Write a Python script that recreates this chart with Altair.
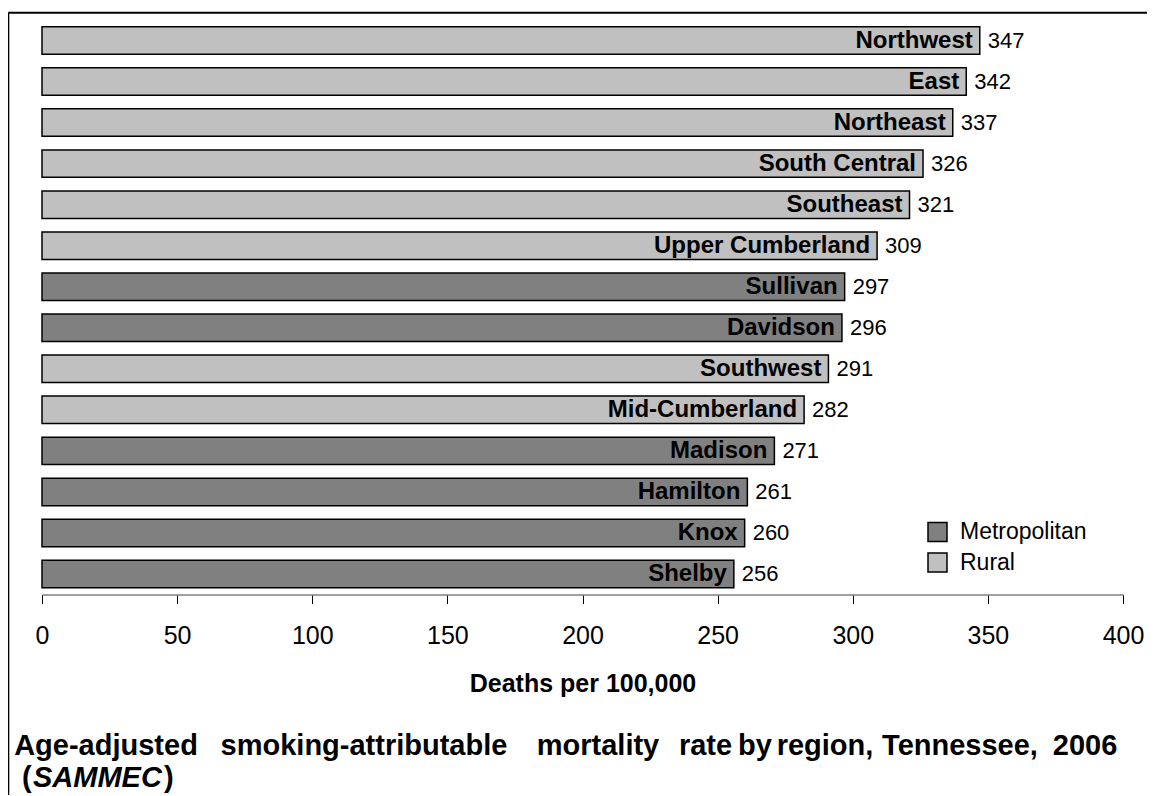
import altair as alt
import pandas as pd

# ---- data ----
regions = ["Northwest", "East", "Northeast", "South Central", "Southeast",
           "Upper Cumberland", "Sullivan", "Davidson", "Southwest",
           "Mid-Cumberland", "Madison", "Hamilton", "Knox", "Shelby"]
rates = [347, 342, 337, 326, 321, 309, 297, 296, 291, 282, 271, 261, 260, 256]
kinds = ["Rural", "Rural", "Rural", "Rural", "Rural", "Rural",
         "Metropolitan", "Metropolitan", "Rural", "Rural",
         "Metropolitan", "Metropolitan", "Metropolitan", "Metropolitan"]
x_ticks = [0, 50, 100, 150, 200, 250, 300, 350, 400]
x_title = "Deaths per 100,000"
legend_order = ["Metropolitan", "Rural"]
legend_colors = ["#808080", "#c0c0c0"]
title_words = ["Age-adjusted", "smoking-attributable", "mortality", "rate",
               "by", "region,", "Tennessee,", "2006"]
title_line2 = ["(", "SAMMEC", ")"]

df = pd.DataFrame({"region": regions, "rate": rates, "kind": kinds})

# ---- layout ----
FONT = "Liberation Sans"
W, H = 1081, 574.5
word_centers = [64, 322, 556, 663.5, 713, 783, 918, 1043]   # plot px
line1_y, line2_y = 735, 767
line2_x = [-20, -9, 122]

y_enc = alt.Y("region:N", sort=regions, axis=None,
              scale=alt.Scale(paddingInner=0.33, paddingOuter=0.165))
x_enc = alt.X("rate:Q",
              scale=alt.Scale(domain=[0, 400], nice=False, zero=True),
              axis=alt.Axis(values=x_ticks, grid=False, title=x_title,
                            domainColor="#808080", domainWidth=1.5,
                            tickColor="black", tickWidth=1, tickSize=9,
                            labelFont=FONT, labelFontSize=25, labelColor="black",
                            labelPadding=20, labelFlush=False, labelOverlap=False,
                            titleFont=FONT, titleFontSize=25, titleFontWeight="bold",
                            titleColor="black", titleY=96.5,
                            titleBaseline="alphabetic", titleAlign="center",
                            titleX=W / 2))

base = alt.Chart(df)

bars = base.mark_bar(stroke="black", strokeWidth=1.5, opacity=1).encode(
    x=x_enc, y=y_enc,
    color=alt.Color("kind:N",
                    scale=alt.Scale(domain=legend_order, range=legend_colors),
                    legend=alt.Legend(title=None, orient="none", direction="vertical",
                                      legendX=884, legendY=500.5,
                                      symbolType="square", symbolSize=361,
                                      symbolStrokeColor="black", symbolStrokeWidth=1.5,
                                      symbolOpacity=1,
                                      labelFont=FONT, labelFontSize=23,
                                      labelColor="black", labelOffset=11,
                                      rowPadding=5.5, padding=0)),
)

names = base.mark_text(align="right", baseline="middle", dx=-7, font=FONT,
                       fontSize=24, fontWeight="bold", color="black").encode(
    x=alt.X("rate:Q"), y=y_enc, text="region:N")

values = base.mark_text(align="left", baseline="middle", dx=8, font=FONT,
                        fontSize=22, color="black").encode(
    x=alt.X("rate:Q"), y=y_enc, text="rate:Q")


def note(text, x, y, size=29, weight="bold", style="normal", align="left"):
    return alt.Chart(alt.Data(values=[{}])).mark_text(
        text=text, align=align, baseline="alphabetic", font=FONT,
        fontSize=size, fontWeight=weight, fontStyle=style, color="black"
    ).encode(x=alt.value(x), y=alt.value(y))


title_layers = [note(w, c, line1_y, align="center")
                for w, c in zip(title_words, word_centers)]
title_layers.append(note(title_line2[0], line2_x[0], line2_y))
title_layers.append(note(title_line2[1], line2_x[1], line2_y, style="italic"))
title_layers.append(note(title_line2[2], line2_x[2], line2_y))

border_v = alt.Chart(alt.Data(values=[{}])).mark_rule(
    color="black", strokeWidth=2).encode(
    x=alt.value(-33.7), y=alt.value(-7.3), y2=alt.value(800))
border_h = alt.Chart(alt.Data(values=[{}])).mark_rule(
    color="black", strokeWidth=2).encode(
    x=alt.value(-33.7), x2=alt.value(1200), y=alt.value(-7.3))

chart = alt.layer(bars, names, values, border_v, border_h, *title_layers).properties(
    width=W, height=H,
    autosize=alt.AutoSizeParams(type="none"),
    padding={"left": 34, "top": 12, "right": 24, "bottom": 200},
    background="white",
).configure_view(stroke=None)

chart.save("out.html", embed_options={"renderer": "svg", "actions": False})
